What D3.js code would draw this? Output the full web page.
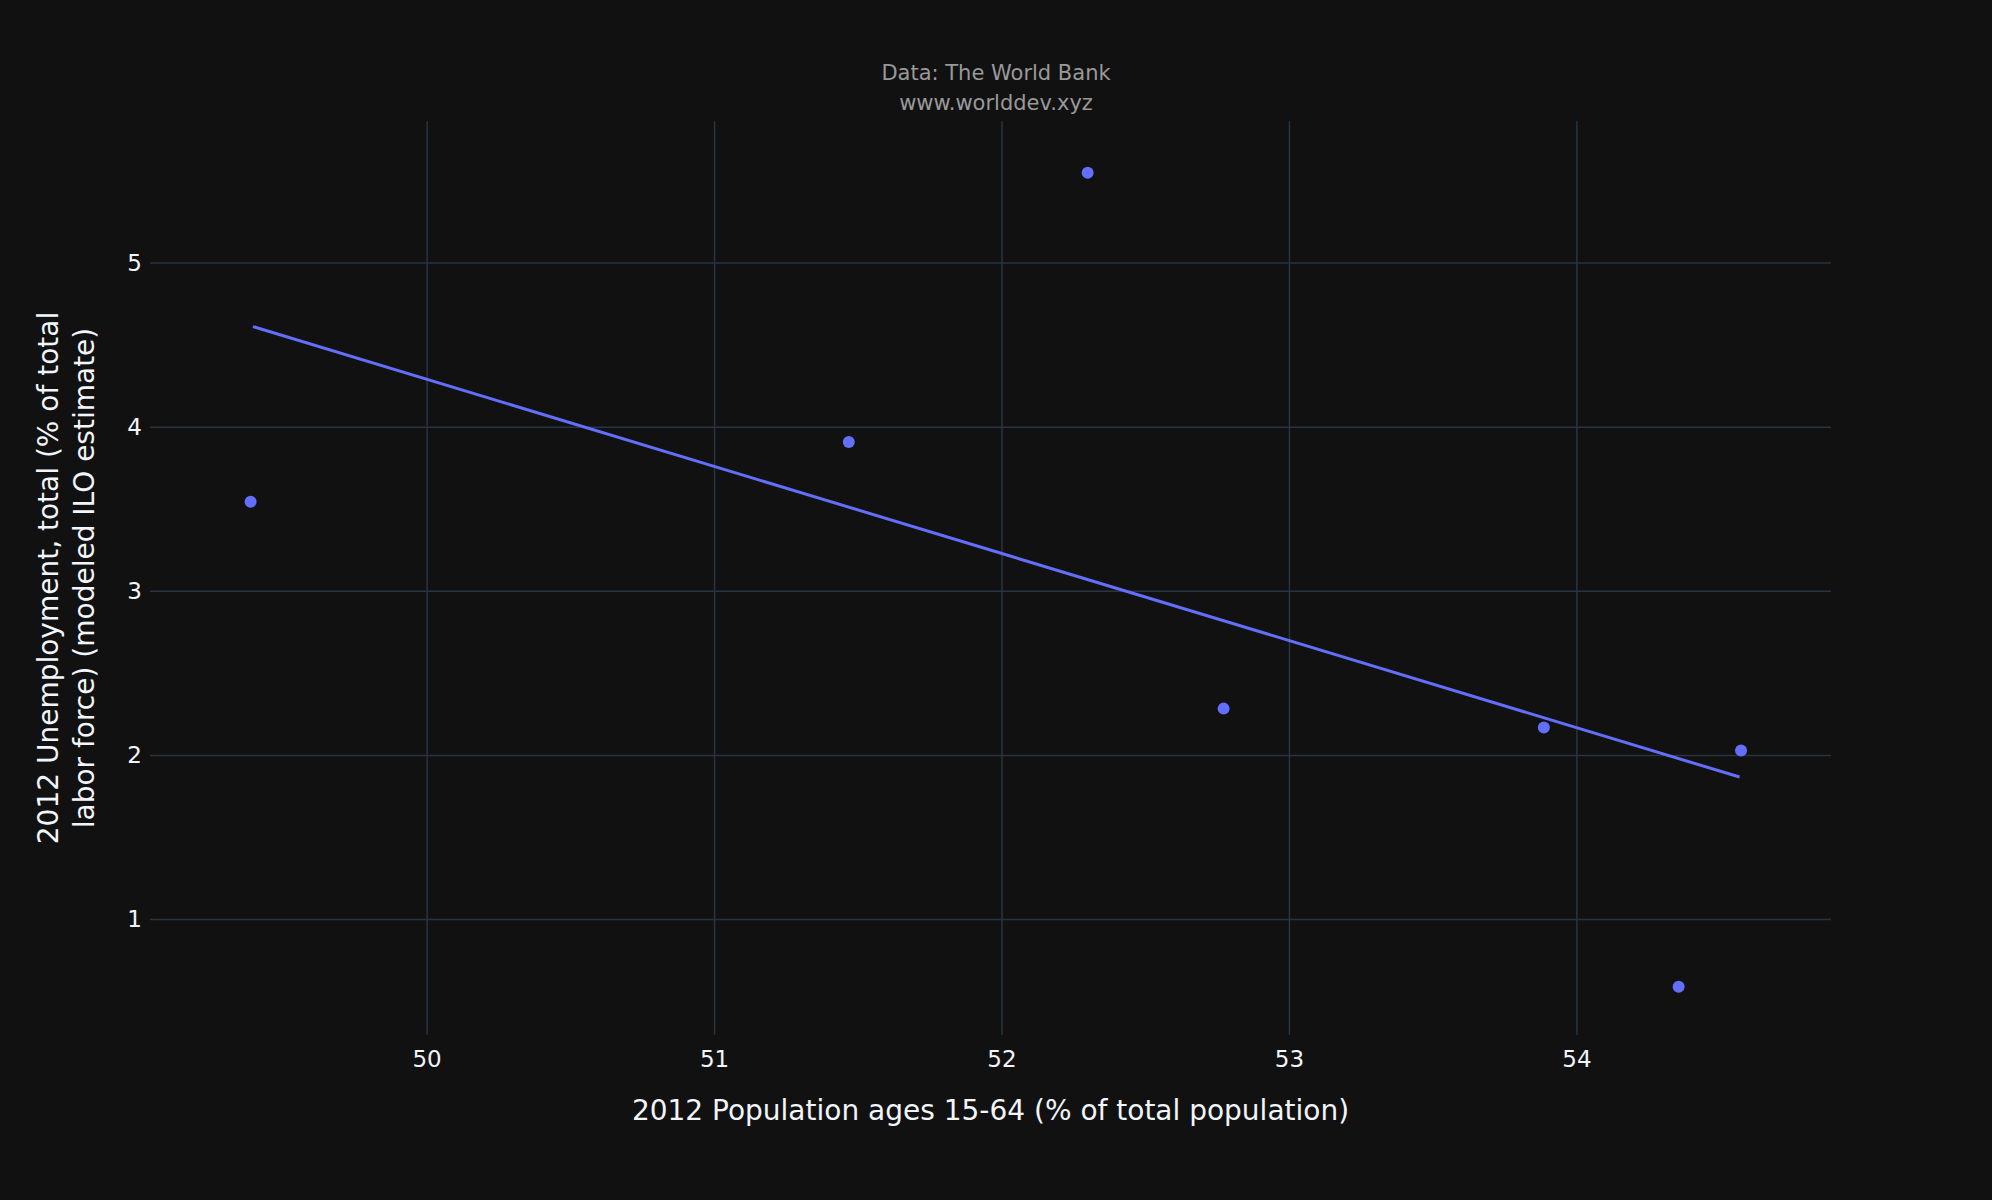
<!DOCTYPE html>
<html><head><meta charset="utf-8">
<script src="https://cdn.jsdelivr.net/npm/d3@7"></script>
<style>body{margin:0;background:#111111;}text{font-family:"DejaVu Sans",sans-serif;}</style>
</head><body>
<svg id="chart" width="1992" height="1200"></svg>
<script>
// data
var popShare = [49.386, 51.467, 52.298, 52.771, 53.885, 54.354, 54.571];
var unemployment = [3.546, 3.91, 5.55, 2.285, 2.17, 0.59, 2.03];
var trendX = [49.394, 54.566];
var trendY = [4.613, 1.868];
var xTicks = [50, 51, 52, 53, 54];
var yTicks = [1, 2, 3, 4, 5];

var W = 1992, H = 1200;
var plotL = 150, plotR = 1831, plotT = 121, plotB = 1035;
var svg = d3.select("#chart");
svg.append("rect").attr("width", W).attr("height", H).attr("fill", "#111111");

var x = d3.scaleLinear().domain([49.036, 54.884]).range([plotL, plotR]);
var y = d3.scaleLinear().domain([0.296, 5.866]).range([plotB, plotT]);

// grid
svg.append("g").selectAll("line").data(xTicks).enter().append("line")
    .attr("x1", d => x(d)).attr("x2", d => x(d)).attr("y1", plotT).attr("y2", plotB)
    .attr("stroke", "#283442").attr("stroke-width", 1.5);
svg.append("g").selectAll("line").data(yTicks).enter().append("line")
    .attr("y1", d => y(d)).attr("y2", d => y(d)).attr("x1", plotL).attr("x2", plotR)
    .attr("stroke", "#283442").attr("stroke-width", 1.5);

// tick labels
svg.append("g").selectAll("text").data(xTicks).enter().append("text")
    .attr("x", d => x(d)).attr("y", plotB + 32).attr("text-anchor", "middle")
    .attr("font-size", "23px").attr("fill", "#f2f5fa").text(d => d);
svg.append("g").selectAll("text").data(yTicks).enter().append("text")
    .attr("x", plotL - 8).attr("y", d => y(d) + 8).attr("text-anchor", "end")
    .attr("font-size", "23px").attr("fill", "#f2f5fa").text(d => d);

// trend line
var pts = trendX.map((v, i) => [v, trendY[i]]);
svg.append("path").datum(pts)
    .attr("d", d3.line().x(d => x(d[0])).y(d => y(d[1])))
    .attr("stroke", "#636efa").attr("stroke-width", 3).attr("fill", "none");

// points
svg.append("g").selectAll("circle").data(popShare).enter().append("circle")
    .attr("cx", d => x(d)).attr("cy", (d, i) => y(unemployment[i]))
    .attr("r", 6).attr("fill", "#636efa");

// titles
svg.append("text").attr("x", W / 2).attr("y", 80).attr("text-anchor", "middle")
    .attr("font-size", "21px").attr("fill", "#999999").text("Data: The World Bank");
svg.append("text").attr("x", W / 2).attr("y", 110).attr("text-anchor", "middle")
    .attr("font-size", "21px").attr("fill", "#999999").text("www.worlddev.xyz");

svg.append("text").attr("x", (plotL + plotR) / 2).attr("y", 1120).attr("text-anchor", "middle")
    .attr("font-size", "28px").attr("fill", "#f2f5fa").text("2012 Population ages 15-64 (% of total population)");

var yt = svg.append("text").attr("transform", "translate(58," + ((plotT + plotB) / 2) + ") rotate(-90)")
    .attr("text-anchor", "middle").attr("font-size", "28px").attr("fill", "#f2f5fa");
yt.append("tspan").attr("x", 0).attr("dy", 0).text("2012 Unemployment, total (% of total");
yt.append("tspan").attr("x", 0).attr("dy", 36).text("labor force) (modeled ILO estimate)");
</script>
</body></html>
